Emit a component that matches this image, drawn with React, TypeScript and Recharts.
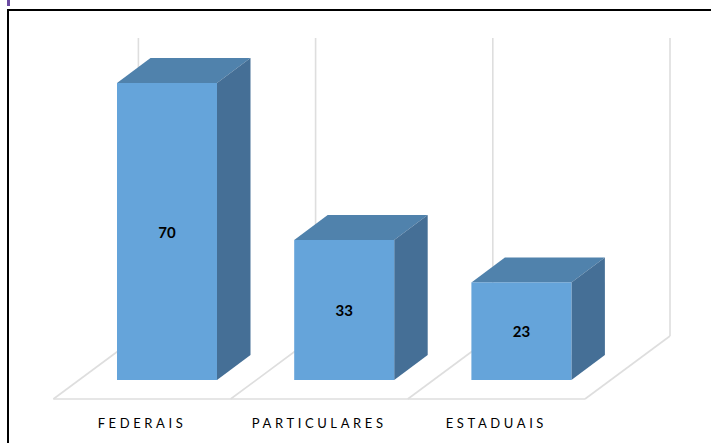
import { BarChart, Bar, XAxis, YAxis, LabelList, usePlotArea } from "recharts";

const categories = ["FEDERAIS", "PARTICULARES", "ESTADUAIS"];
const values = [70, 33, 23];

const rows = categories.map((name, i) => ({ name, value: values[i] }));

const DEPTH_X = 33.5;
const DEPTH_Y = 25;
const FRONT = "#65a4da";
const TOP = "#5082ac";
const SIDE = "#456f96";
const GRID = "#dedede";

// back wall and floor of the 3d box, placed relative to the plot area
function Floor() {
  const plot = usePlotArea();
  if (!plot) return null;
  const band = plot.width / categories.length;
  const left = plot.x - 25;
  const front = plot.y + plot.height + 19;
  const lines = [];
  for (let i = 0; i <= categories.length; i++) {
    const x = left + i * band;
    lines.push(
      <g key={i}>
        <line x1={x} y1={front} x2={x + 85} y2={front - 63} stroke={GRID} strokeWidth={1.6} />
        <line x1={x + 85} y1={front - 63} x2={x + 85} y2={front - 63 - plot.height - 1} stroke={GRID} strokeWidth={1.6} />
      </g>
    );
  }
  return (
    <g>
      {lines}
      <line x1={left} y1={front} x2={left + 3 * band} y2={front} stroke={GRID} strokeWidth={1.6} />
    </g>
  );
}

function Bar3d(props: any) {
  const { x, y, width, height } = props;
  const r = x + width;
  const b = y + height;
  return (
    <g>
      <polygon points={`${x},${y} ${x + DEPTH_X},${y - DEPTH_Y} ${r + DEPTH_X},${y - DEPTH_Y} ${r},${y}`} fill={TOP} />
      <polygon points={`${r},${y} ${r + DEPTH_X},${y - DEPTH_Y} ${r + DEPTH_X},${b - DEPTH_Y} ${r},${b}`} fill={SIDE} />
      <rect x={x} y={y} width={width} height={height} fill={FRONT} />
    </g>
  );
}

function CategoryTick(props: any) {
  const { x, y, payload } = props;
  return (
    <text
      x={x - 25}
      y={y + 34.5}
      textAnchor="middle"
      dominantBaseline="central"
      fontFamily="Lato"
      fontSize={13}
      letterSpacing={3.6}
      fill="#000"
    >
      {payload.value}
    </text>
  );
}

function ValueLabel(props: any) {
  const { x, y, width, height, value } = props;
  return (
    <text
      x={x + width / 2}
      y={y + height / 2}
      textAnchor="middle"
      dominantBaseline="central"
      fontFamily="Lato"
      fontWeight={700}
      fontSize={15}
      fill="#000"
    >
      {value}
    </text>
  );
}

export default function App() {
  return (
    <div style={{ position: "absolute", left: 0, top: 0, width: 711, height: 443, background: "#fff", overflow: "hidden" }}>
      <div style={{ position: "absolute", left: 7, top: 0, width: 3, height: 6, background: "#6b4ba3" }} />
      <div style={{ position: "absolute", left: 7, top: 9, right: 0, height: 2, background: "#000" }} />
      <div style={{ position: "absolute", left: 7, top: 9, bottom: 0, width: 2, background: "#000" }} />
      <div style={{ position: "absolute", left: 0, top: 0 }}>
        <BarChart
          width={711}
          height={443}
          data={rows}
          margin={{ top: 83, right: 101, bottom: 0, left: 78.4 }}
          barCategoryGap={38.6}
        >
          <Floor />
          <XAxis
            dataKey="name"
            axisLine={false}
            tickLine={false}
            tick={<CategoryTick />}
            height={63}
            interval={0}
          />
          <YAxis hide domain={[0, 70]} />
          <Bar dataKey="value" isAnimationActive={false} shape={<Bar3d />}>
            <LabelList dataKey="value" content={<ValueLabel />} />
          </Bar>
        </BarChart>
      </div>
    </div>
  );
}
